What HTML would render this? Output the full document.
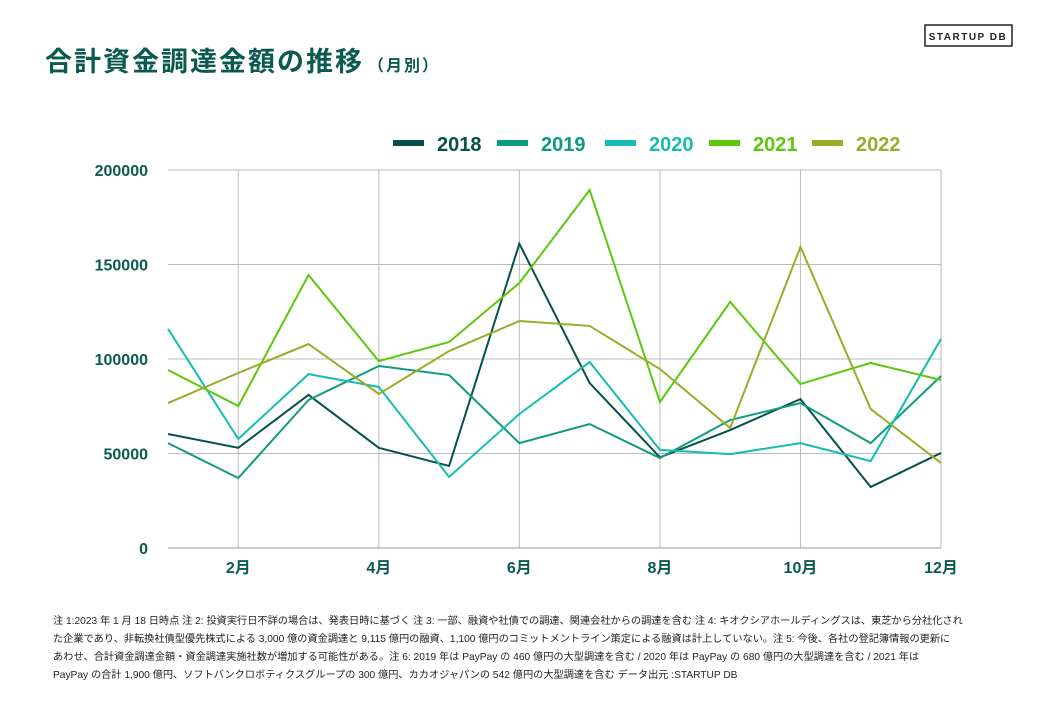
<!DOCTYPE html>
<html><head><meta charset="utf-8">
<style>
body{margin:0;background:#fff;}
svg text{font-family:"Liberation Sans","Noto Sans CJK JP",sans-serif;}
</style></head>
<body>
<svg id="chart" width="1055" height="704" xmlns="http://www.w3.org/2000/svg">
<rect width="1055" height="704" fill="#fff"/>
<text x="45" y="71" font-size="27" font-weight="bold" fill="#0b5a50" letter-spacing="2">合計資金調達金額の推移<tspan font-size="16" dx="4">（月別）</tspan></text>
<g>
<rect x="925" y="25" width="87" height="21" fill="none" stroke="#222" stroke-width="1.5"/>
<text x="968" y="40" font-size="10" font-weight="bold" text-anchor="middle" fill="#222" letter-spacing="1.5">STARTUP DB</text>
</g>
<g id="grid"></g>
<g id="axes"></g>
<g id="series"></g>
<g id="legend"></g>
<g font-size="10.2" fill="#222">
<text x="53" y="624">注 1:2023 年 1 月 18 日時点 注 2: 投資実行日不詳の場合は、発表日時に基づく 注 3: 一部、融資や社債での調達、関連会社からの調達を含む 注 4: キオクシアホールディングスは、東芝から分社化され</text>
<text x="53" y="642">た企業であり、非転換社債型優先株式による 3,000 億の資金調達と 9,115 億円の融資、1,100 億円のコミットメントライン策定による融資は計上していない。注 5: 今後、各社の登記簿情報の更新に</text>
<text x="53" y="660">あわせ、合計資金調達金額・資金調達実施社数が増加する可能性がある。注 6: 2019 年は PayPay の 460 億円の大型調達を含む / 2020 年は PayPay の 680 億円の大型調達を含む / 2021 年は</text>
<text x="53" y="678">PayPay の合計 1,900 億円、ソフトバンクロボティクスグループの 300 億円、カカオジャパンの 542  億円の大型調達を含む データ出元 :STARTUP DB</text>
</g>
</svg>
<script>
const months=[1,2,3,4,5,6,7,8,9,10,11,12];
const yTicks=[0,50000,100000,150000,200000];
const xTickMonths=[2,4,6,8,10,12];
const years=["2018","2019","2020","2021","2022"];
const s2018=[60300,53000,81000,53000,43400,161000,87300,48000,62400,78800,32300,50300];
const s2019=[55500,37000,78300,96300,91500,55500,65600,47600,67700,76700,55500,91000];
const s2020=[115900,57700,92000,85200,37600,70900,98400,51900,49700,55500,46000,110600];
const s2021=[94200,75100,144400,98900,109000,140200,189400,77200,130200,86800,97900,88900];
const s2022=[76700,92600,107900,81500,104200,120100,117500,94700,63500,159300,73500,45000];
const colors=["#06514b","#0d9c7c","#14bcb4","#5cc80c","#97ad28"];
const NS="http://www.w3.org/2000/svg";
const X=m=>168+(m-1)*(941-168)/11;
const Y=v=>548-v*(548-170)/200000;
function mk(t,a,p){const e=document.createElementNS(NS,t);for(const k in a)e.setAttribute(k,a[k]);p.appendChild(e);return e;}
const grid=document.getElementById('grid'),axes=document.getElementById('axes'),ser=document.getElementById('series'),leg=document.getElementById('legend');
yTicks.forEach(v=>{
 if(v>0){const l=mk('line',{x1:168,x2:941,y1:Y(v),y2:Y(v),stroke:'#bbb','stroke-width':1},grid);
 
 }
 const t=mk('text',{x:148,y:Y(v)+6,'text-anchor':'end','font-size':16,'font-weight':'bold',fill:'#0b5a50'},axes);t.textContent=v;
 
 
});
xTickMonths.forEach(m=>{
 const l=mk('line',{x1:X(m),x2:X(m),y1:170,y2:548,stroke:'#bbb','stroke-width':1},grid);
 
 
 const t=mk('text',{x:X(m),y:573,'text-anchor':'middle','font-size':16,'font-weight':'bold',fill:'#0b5a50'},axes);t.textContent=m+'月';
 
 
});
const base=mk('line',{x1:168,x2:941,y1:548,y2:548,stroke:'#999','stroke-width':1},grid);


[s2018,s2019,s2020,s2021,s2022].forEach((s,i)=>{
 const p=mk('polyline',{points:s.map((v,j)=>X(months[j])+','+Y(v)).join(' '),fill:'none',stroke:colors[i],'stroke-width':2,'stroke-linejoin':'miter'},ser);
 
 
});
const lx=[393,497,605,709,812];
years.forEach((y,i)=>{
 const r=mk('rect',{x:lx[i],y:140,width:31,height:6,fill:colors[i]},leg);
 
 
 const t=mk('text',{x:lx[i]+44,y:151,'font-size':20,'font-weight':'bold',fill:colors[i]},leg);t.textContent=y;
 
 
});
</script>
</body></html>
